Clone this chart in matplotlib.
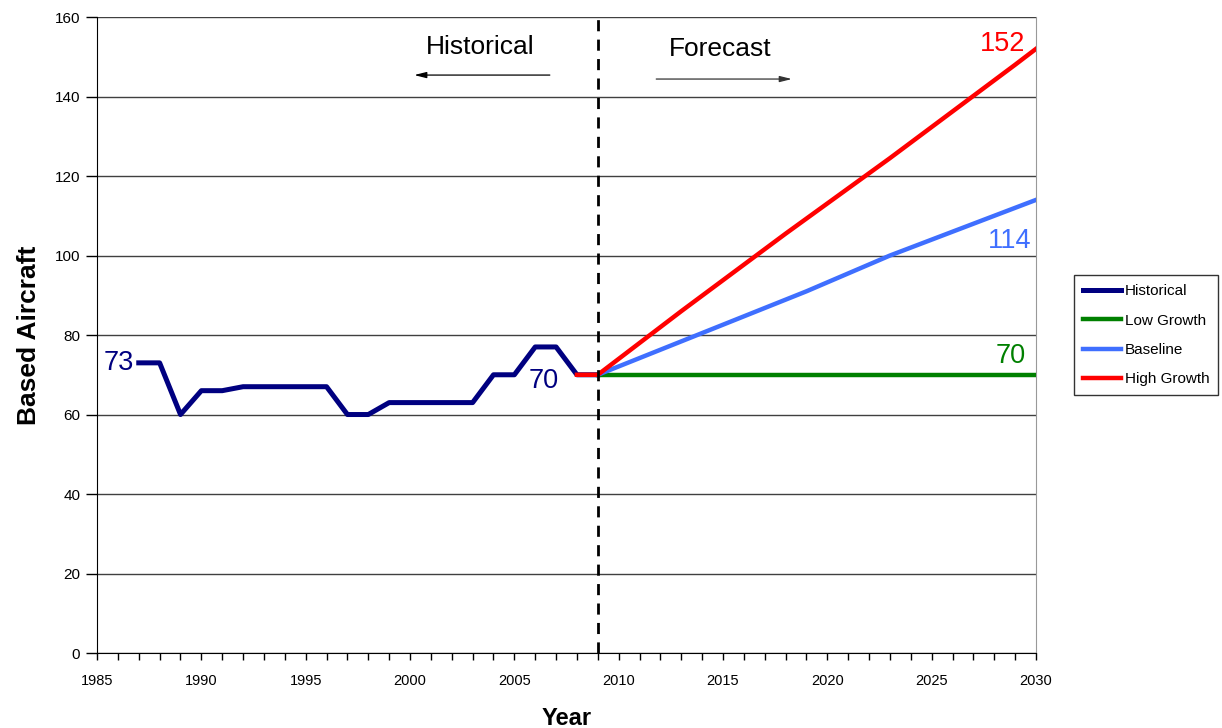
import numpy as np
import matplotlib.pyplot as plt
from matplotlib.ticker import MultipleLocator

plt.rcParams['font.family'] = ['Liberation Sans', 'DejaVu Sans']

# based aircraft counts
hist_years = [1987, 1988, 1989, 1990, 1991, 1992, 1993, 1994, 1995, 1996, 1997, 1998,
              1999, 2000, 2001, 2002, 2003, 2004, 2005, 2006, 2007, 2008, 2009]
hist_vals = [73, 73, 60, 66, 66, 67, 67, 67, 67, 67, 60, 60,
             63, 63, 63, 63, 63, 70, 70, 77, 77, 70, 70]

low_years = [2009, 2030]
low_vals = [70, 70]

base_years = [2009, 2014, 2019, 2023, 2029, 2030]
base_vals = [70, 80.5, 91, 100, 112, 114]

high_years = [2008, 2009, 2013, 2018, 2023, 2029, 2030]
high_vals = [70, 70, 86, 105.5, 124.5, 148, 152]

c_hist, c_low, c_base, c_high = '#000080', '#008000', '#3F6FFF', '#FF0000'

fig = plt.figure(figsize=(12.22, 7.28), dpi=100)
ax = fig.add_axes([0.0794, 0.1030, 0.7684, 0.8736])

ax.plot(hist_years, hist_vals, color=c_hist, lw=3.6, label='Historical', zorder=3)
ax.plot(low_years, low_vals, color=c_low, lw=3.2, label='Low Growth', zorder=3)
ax.plot(base_years, base_vals, color=c_base, lw=3.2, label='Baseline', zorder=3)
ax.plot(high_years, high_vals, color=c_high, lw=3.2, label='High Growth', zorder=3)

ax.axvline(2009, color='black', lw=2, ls=(0, (4, 3)), zorder=4)

# end-point value labels
lab = dict(fontsize=19.5, va='center')
ax.text(1986.75, hist_vals[0], f'{hist_vals[0]}', color=c_hist, ha='right', **lab)
ax.text(2006.4, hist_vals[-1] - 1.6, f'{hist_vals[-1]}', color=c_hist, ha='center', **lab)
ax.text(2029.5, high_vals[-1] + 1.2, f'{high_vals[-1]}', color=c_high, ha='right', **lab)
ax.text(2029.8, base_vals[-1] - 10.4, f'{base_vals[-1]}', color=c_base, ha='right', **lab)
ax.text(2029.5, low_vals[-1] + 4.7, f'{low_vals[-1]}', color=c_low, ha='right', **lab)

# period annotations
arrow = dict(arrowstyle='-|>,head_length=0.6,head_width=0.15', lw=0.9,
             mutation_scale=12, shrinkA=0, shrinkB=0)
ax.text(2003.35, 152.5, 'Historical', fontsize=19, ha='center', va='center')
ax.annotate('', xy=(2000.2, 145.4), xytext=(2006.7, 145.4),
            arrowprops=dict(color='black', **arrow))
ax.text(2014.85, 152, 'Forecast', fontsize=19, ha='center', va='center')
ax.annotate('', xy=(2018.3, 144.4), xytext=(2011.8, 144.4),
            arrowprops=dict(color='#333333', **arrow))

ax.set_xlim(1985, 2030)
ax.set_ylim(0, 160)
ax.xaxis.set_major_locator(MultipleLocator(5))
ax.xaxis.set_minor_locator(MultipleLocator(1))
ax.yaxis.set_major_locator(MultipleLocator(20))
ax.grid(axis='y', color='#404040', lw=1)
ax.set_axisbelow(True)

ax.tick_params(axis='x', which='both', direction='out', length=5, width=1,
               labelsize=10.5, pad=10)
ax.tick_params(axis='y', direction='out', length=8, width=1, labelsize=11, pad=4)

ax.spines['top'].set_visible(False)
ax.spines['right'].set_color('#999999')
ax.spines['left'].set_color('black')
ax.spines['bottom'].set_color('black')

ax.set_xlabel('Year', fontsize=17, fontweight='bold', labelpad=14)
ax.set_ylabel('Based Aircraft', fontsize=19, fontweight='bold', labelpad=10)

leg = ax.legend(loc='upper left', bbox_to_anchor=(0.879, 0.622),
                bbox_transform=fig.transFigure, fontsize=11, frameon=True,
                fancybox=False, edgecolor='black', handlelength=2.5,
                handletextpad=0.2, labelspacing=1.0, borderpad=0.6,
                borderaxespad=0)
leg.get_frame().set_linewidth(1)

fig.savefig('out.png', dpi=100)
